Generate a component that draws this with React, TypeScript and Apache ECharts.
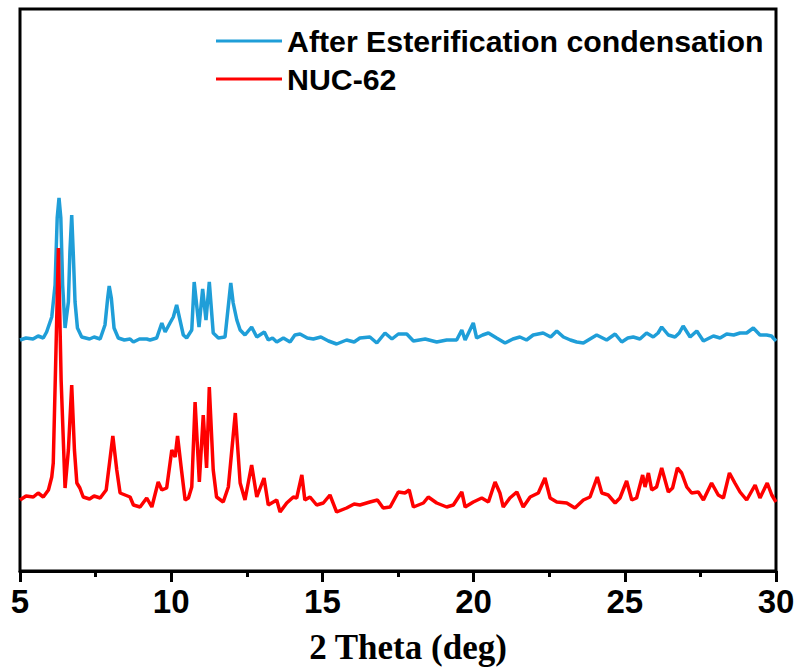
import React, { useEffect, useRef } from "react";
import * as echarts from "echarts";

// 2θ positions (deg) and intensities (arbitrary units) for "After Esterification condensation"
const blueTheta = [
  5.0, 5.2, 5.43, 5.6, 5.77, 5.88, 6.05, 6.16, 6.23, 6.29, 6.35, 6.41, 6.49, 6.6, 6.65, 6.71, 6.76, 6.82, 6.9,
  7.04, 7.3, 7.45, 7.65, 7.81, 7.9, 7.95, 8.02, 8.11, 8.25, 8.45, 8.64, 8.75, 8.95, 9.19, 9.3, 9.52, 9.69, 9.8,
  9.96, 10.07, 10.18, 10.29, 10.4, 10.51, 10.68, 10.76, 10.92, 11.04, 11.15, 11.26, 11.39, 11.56, 11.78, 11.97,
  12.05, 12.17, 12.28, 12.44, 12.66, 12.83, 13.08, 13.21, 13.35, 13.49, 13.71, 13.93, 14.09, 14.26, 14.5, 14.7,
  14.95, 15.2, 15.47, 15.8, 16.05, 16.24, 16.57, 16.8, 17.07, 17.3, 17.51, 17.79, 18.01, 18.4, 18.78, 19.11,
  19.44, 19.61, 19.72, 19.99, 20.1, 20.3, 20.49, 20.76, 21.04, 21.3, 21.53, 21.75, 21.97, 22.3, 22.55, 22.75,
  22.97, 23.2, 23.41, 23.63, 23.85, 24.07, 24.4, 24.68, 24.9, 25.1, 25.28, 25.5, 25.72, 25.94, 26.1, 26.22,
  26.44, 26.66, 26.8, 26.93, 27.16, 27.38, 27.6, 27.93, 28.15, 28.37, 28.6, 28.81, 29.03, 29.25, 29.47, 29.69,
  29.85, 30.0,
];
const blueIntensity = [
  231, 233, 232, 235, 233, 239, 254, 286, 353, 373, 353, 286, 243, 269, 319, 356, 319, 269, 243,
  234, 232, 234, 232, 246, 273, 285, 273, 243, 233, 231, 232, 229, 232, 232, 231, 233, 248, 239,
  248, 254, 266, 251, 236, 233, 241, 289, 244, 282, 251, 289, 238, 233, 234, 288,
  268, 251, 241, 236, 244, 234, 239, 231, 233, 229, 233, 229, 236, 237, 233, 232,
  234, 230, 227, 231, 229, 233, 234, 228, 238, 232, 237, 237, 230, 232, 229, 231,
  231, 241, 231, 248, 233, 236, 238, 233, 228, 232, 234, 231, 236, 238, 234, 240,
  234, 231, 229, 228, 232, 236, 231, 237, 229, 233, 234, 232, 238, 234, 238, 244,
  236, 234, 238, 245, 234, 240, 230, 235, 233, 237, 236, 238, 238, 243, 236, 236,
  235, 230,
];

// 2θ positions (deg) and intensities (arbitrary units) for "NUC-62"
const redTheta = [
  5.0, 5.2, 5.44, 5.6, 5.77, 5.94, 6.05, 6.1, 6.19, 6.27, 6.36, 6.49, 6.6, 6.71, 6.8, 6.88, 6.98, 7.09, 7.3,
  7.45, 7.65, 7.85, 8.07, 8.2, 8.31, 8.64, 8.75, 8.97, 9.19, 9.36, 9.57, 9.69, 9.85, 10.02, 10.13, 10.21, 10.34,
  10.46, 10.57, 10.68, 10.79, 10.93, 11.06, 11.17, 11.26, 11.39, 11.5, 11.72, 11.89, 12.12, 12.28, 12.44, 12.66,
  12.83, 13.07, 13.21, 13.49, 13.6, 13.82, 14.04, 14.15, 14.32, 14.42, 14.59, 14.81, 15.03, 15.25, 15.47, 15.8,
  16.05, 16.24, 16.57, 16.82, 17.01, 17.24, 17.51, 17.73, 17.87, 18.01, 18.34, 18.5, 18.78, 19.11, 19.33, 19.61,
  19.72, 19.99, 20.27, 20.49, 20.71, 20.87, 20.98, 21.2, 21.43, 21.64, 21.87, 22.14, 22.36, 22.53, 22.75, 23.08,
  23.35, 23.63, 23.85, 24.09, 24.24, 24.45, 24.68, 24.84, 25.06, 25.23, 25.39, 25.59, 25.67, 25.78, 25.89, 26.05,
  26.22, 26.44, 26.58, 26.74, 26.88, 27.05, 27.21, 27.43, 27.6, 27.87, 28.09, 28.26, 28.46, 28.64, 28.81, 29.03,
  29.31, 29.47, 29.71, 29.86, 30.0,
];
const redIntensity = [
  71, 75, 74, 78, 74, 81, 94, 108, 221, 323, 191, 83, 121, 186, 121, 88, 83, 74, 72,
  75, 73, 81, 135, 101, 78, 74, 66, 64, 73, 64, 89, 81, 83, 121, 114, 135, 101,
  71, 73, 84, 169, 89, 156, 103, 184, 101, 74, 69, 84, 158, 88, 71, 106,
  74, 93, 66, 71, 59, 68, 74, 73, 96, 71, 74, 66, 68, 76, 59, 63,
  67, 66, 69, 71, 63, 64, 79, 78, 81, 64, 68, 74, 68, 64, 66, 79,
  64, 69, 73, 69, 89, 78, 64, 73, 79, 64, 74, 78, 93, 73, 69, 68,
  63, 71, 74, 94, 78, 76, 68, 73, 90, 71, 73, 96, 84, 98, 81, 84,
  103, 79, 83, 103, 98, 84, 78, 79, 71, 88, 76, 73, 98, 88, 79, 71,
  86, 73, 88, 76, 69,
];

const seriesNames = ["After Esterification condensation", "NUC-62"];
const xTickLabels = [5, 10, 15, 20, 25, 30];

const zip = (xs: number[], ys: number[]) => xs.map((x, i) => [x, ys[i]]);

export default function App() {
  const ref = useRef<HTMLDivElement>(null);
  useEffect(() => {
    if (!ref.current) return;
    const chart = echarts.init(ref.current, undefined, { renderer: "svg" });
    chart.setOption({
      animation: false,
      backgroundColor: "#ffffff",
      grid: {
        left: 20,
        right: 23,
        top: 9,
        bottom: 99,
        show: true,
        borderColor: "#000",
        borderWidth: 3,
        containLabel: false,
        outerBoundsMode: "none",
      },
      legend: {
        orient: "vertical",
        left: 211,
        top: 21,
        icon: "rect",
        itemWidth: 66,
        itemHeight: 3,
        itemGap: 8,
        textStyle: {
          fontFamily: "Liberation Sans, Arial, sans-serif",
          fontWeight: "bold",
          fontSize: 30.3,
          lineHeight: 30,
          color: "#000",
        },
        data: seriesNames,
      },
      xAxis: {
        type: "value",
        min: 5,
        max: 30,
        interval: 5,
        name: "2 Theta (deg)",
        nameLocation: "middle",
        nameGap: 59,
        nameTextStyle: {
          fontFamily: "Liberation Serif, Times New Roman, serif",
          fontWeight: "bold",
          fontSize: 35,
          color: "#000",
          padding: [0, 0, 0, 20],
        },
        axisLine: { show: true, onZero: false, lineStyle: { color: "#000", width: 3 } },
        axisTick: { show: true, inside: false, length: 11, lineStyle: { color: "#000", width: 3 } },
        minorTick: { show: true, splitNumber: 2, length: 6, lineStyle: { color: "#000", width: 3 } },
        splitLine: { show: false },
        axisLabel: {
          margin: 14,
          fontFamily: "Liberation Sans, Arial, sans-serif",
          fontWeight: "bold",
          fontSize: 33,
          color: "#000",
          formatter: (v: number) => (xTickLabels.includes(v) ? String(v) : ""),
        },
      },
      yAxis: {
        type: "value",
        min: 0,
        max: 562,
        show: false,
        splitLine: { show: false },
      },
      series: [
        {
          name: seriesNames[0],
          type: "line",
          data: zip(blueTheta, blueIntensity),
          showSymbol: false,
          symbol: "none",
          lineStyle: { color: "#1f9ed8", width: 3.5 },
          itemStyle: { color: "#1f9ed8" },
        },
        {
          name: seriesNames[1],
          type: "line",
          data: zip(redTheta, redIntensity),
          showSymbol: false,
          symbol: "none",
          lineStyle: { color: "#ff0000", width: 3.5 },
          itemStyle: { color: "#ff0000" },
        },
      ],
    });
    return () => chart.dispose();
  }, []);
  return <div ref={ref} style={{ width: 799, height: 670, position: "absolute", left: 0, top: 0 }} />;
}
